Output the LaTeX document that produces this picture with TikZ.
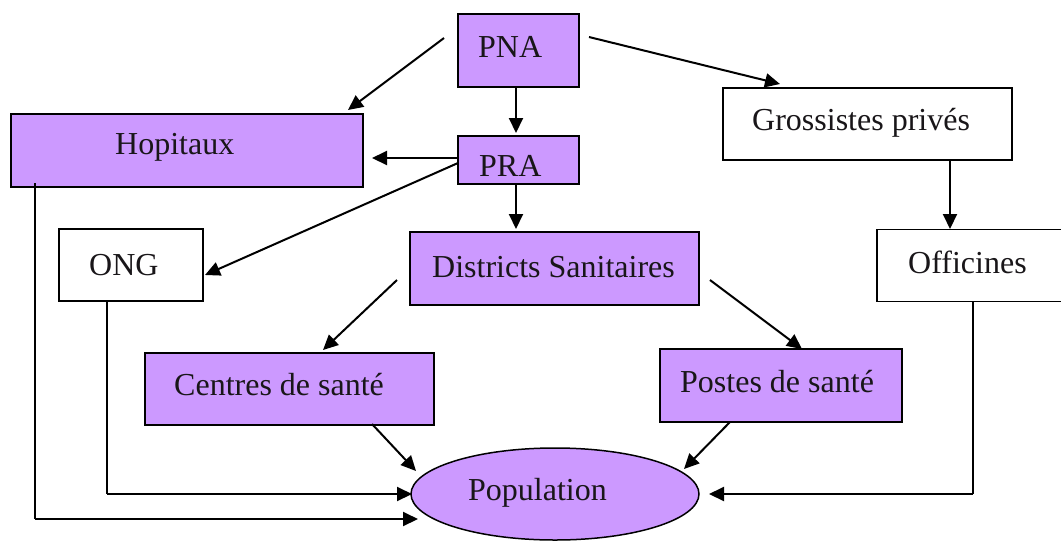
\documentclass[tikz,border=0pt]{standalone}
\usepackage{fontspec}
\setmainfont{Liberation Serif}
\usetikzlibrary{arrows.meta,shapes.geometric}
\definecolor{lilac}{RGB}{204,153,255}
\definecolor{ink}{RGB}{25,22,25}
\tikzset{
  boxp/.style={draw=black,line width=1.5pt,fill=lilac,inner sep=0pt},
  boxw/.style={draw=black,line width=1.5pt,fill=white,inner sep=0pt},
  lbl/.style={anchor=base west,inner sep=0pt,text=ink,font=\fontsize{32}{38}\selectfont},
  arr/.style={line width=2pt,-{Triangle[length=15pt,width=14pt]}},
  ln/.style={line width=2pt}
}
\begin{document}
\begin{tikzpicture}[x=1pt,y=-1pt]
\useasboundingbox (0,0) rectangle (1061,542);
% boxes
\node[boxp,minimum width=121pt,minimum height=73pt] (pna) at (518.5,50.5) {};
\node[boxp,minimum width=121pt,minimum height=48pt] (pra) at (518.5,160) {};
\node[boxp,minimum width=352pt,minimum height=73pt] (hop) at (187,150.5) {};
\node[boxw,minimum width=144pt,minimum height=72pt] (ong) at (131,265) {};
\node[boxw,minimum width=289pt,minimum height=72pt] (gro) at (867.5,124) {};
\node[boxw,minimum width=200pt,minimum height=72pt] (off) at (977,265.5) {};
\node[boxp,minimum width=289pt,minimum height=73pt] (dis) at (554.5,268.5) {};
\node[boxp,minimum width=289pt,minimum height=72pt] (cen) at (289.5,389) {};
\node[boxp,minimum width=242pt,minimum height=73pt] (pos) at (781,385.5) {};
\node[draw=black,line width=1.5pt,fill=lilac,ellipse,inner sep=0pt,minimum width=288pt,minimum height=92pt] (pop) at (555,494) {};
% labels
\node[lbl] (tpna) at (478,57) {PNA};
\node[lbl] (tpra) at (479,176) {PRA};
\node[lbl] (thop) at (115,154) {Hopitaux};
\node[lbl] (tong) at (89,275) {ONG};
\node[lbl] (tgro) at (752,130) {Grossistes privés};
\node[lbl] (toff) at (908,273) {Officines};
\node[lbl] (tdis) at (432,277) {Districts Sanitaires};
\node[lbl] (tcen) at (174,395) {Centres de santé};
\node[lbl] (tpos) at (680,392) {Postes de santé};
\node[lbl] (tpop) at (468,500) {Population};
% connector end points
\coordinate (a1) at (444,38);   \coordinate (a1e) at (348,110);
\coordinate (a2) at (589,37);   \coordinate (a2e) at (780,84);
\coordinate (a4e) at (372,158);
\coordinate (a5) at (458,163);  \coordinate (a5e) at (205,275);
\coordinate (a7) at (397,280);  \coordinate (a7e) at (323,350);
\coordinate (a8) at (710,280);  \coordinate (a8e) at (802,349);
\coordinate (a10) at (372,424); \coordinate (a10e) at (416,471);
\coordinate (a11) at (730,422); \coordinate (a11e) at (684,469);
\coordinate (h0) at (35,183);   \coordinate (h1) at (35,519); \coordinate (h2) at (418,519);
\coordinate (o0) at (107,301);  \coordinate (o1) at (107,494); \coordinate (o2) at (412,494);
\coordinate (f0) at (973,301);  \coordinate (f1) at (973,494); \coordinate (f2) at (709,494);
% connectors
\draw[arr] (a1) -- (a1e);
\draw[arr] (a2) -- (a2e);
\draw[arr] (pna.south -| 516,0) -- (516,133);
\draw[arr] (pra.west |- 0,158) -- (a4e);
\draw[arr] (a5) -- (a5e);
\draw[arr] (pra.south -| 516,0) -- (516,229);
\draw[arr] (a7) -- (a7e);
\draw[arr] (a8) -- (a8e);
\draw[arr] (gro.south -| 950,0) -- (950,229);
\draw[arr] (a10) -- (a10e);
\draw[arr] (a11) -- (a11e);
\draw[ln] (h0) -- (h1);
\draw[arr] (h1) -- (h2);
\draw[ln] (o0) -- (o1);
\draw[arr] (o1) -- (o2);
\draw[ln] (f0) -- (f1);
\draw[arr] (f1) -- (f2);
\end{tikzpicture}
\end{document}
